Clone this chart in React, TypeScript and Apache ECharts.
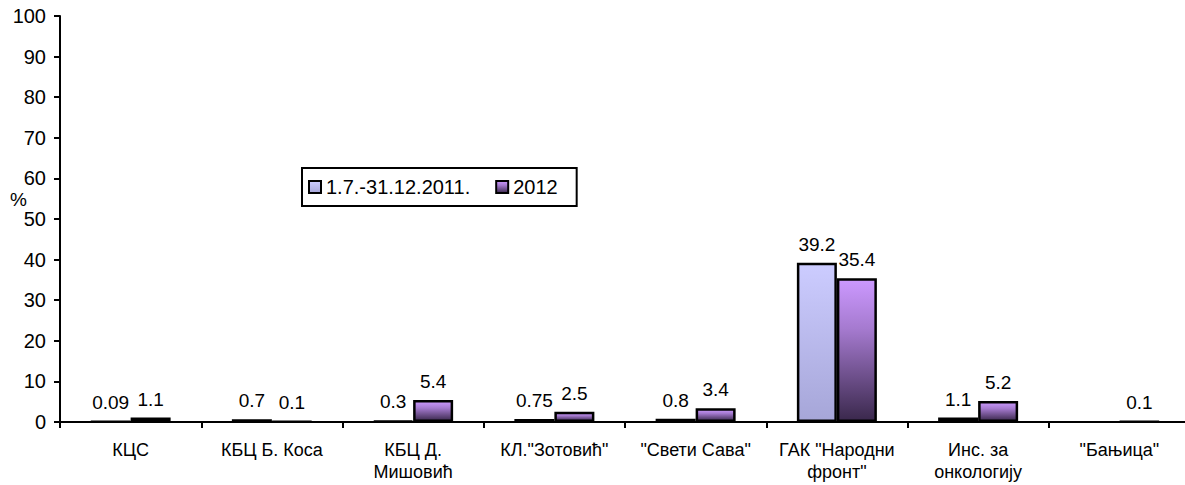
import React, { useEffect, useRef } from "react";
import * as echarts from "echarts";

const categories = [
  "КЦС",
  "КБЦ Б. Коса",
  "КБЦ Д.\nМишовић",
  'КЛ."Зотовић"',
  '"Свети Сава"',
  'ГАК "Народни\nфронт"',
  "Инс. за\nонкологију",
  '"Бањица"',
];
const seriesNames = ["1.7.-31.12.2011.", "2012"];
const values2011: (number | null)[] = [0.09, 0.7, 0.3, 0.75, 0.8, 39.2, 1.1, null];
const values2012: (number | null)[] = [1.1, 0.1, 5.4, 2.5, 3.4, 35.4, 5.2, 0.1];
const yTicks = { min: 0, max: 100, interval: 10 };

const FONT = "'Liberation Sans', Arial, sans-serif";

export default function App() {
  const ref = useRef<HTMLDivElement>(null);
  useEffect(() => {
    if (!ref.current) return;
    const chart = echarts.init(ref.current, null, { renderer: "svg" });
    const grad1 = new echarts.graphic.LinearGradient(0, 0, 0, 1, [
      { offset: 0, color: "#CCCCFF" },
      { offset: 1, color: "#A6A6D8" },
    ]);
    const grad2 = new echarts.graphic.LinearGradient(0, 0, 0, 1, [
      { offset: 0, color: "#CC99FF" },
      { offset: 0.35, color: "#A57ACF" },
      { offset: 1, color: "#3A284C" },
    ]);
    const label = {
      show: true,
      position: "top" as const,
      distance: 9,
      color: "#000",
      fontSize: 19,
      fontFamily: FONT,
    };
    chart.setOption({
      animation: false,
      backgroundColor: "#fff",
      textStyle: { fontFamily: FONT, color: "#000" },
      grid: {
        left: 60,
        top: 16,
        bottom: 63,
        width: 1130,
        containLabel: false,
        outerBoundsMode: "none",
      },
      legend: {
        left: 302,
        top: 168,
        orient: "horizontal",
        backgroundColor: "#fff",
        borderColor: "#000",
        borderWidth: 2,
        borderRadius: 0,
        padding: [9, 19, 9, 6],
        itemGap: 25,
        itemWidth: 12,
        itemHeight: 12,
        icon: "rect",
        itemStyle: { borderColor: "#000", borderWidth: 2 },
        textStyle: { fontSize: 20, color: "#000", fontFamily: FONT },
        data: seriesNames,
      },
      graphic: [
        {
          type: "text",
          left: 10,
          top: 190,
          style: { text: "%", fontSize: 19, fill: "#000", fontFamily: FONT },
        },
      ],
      xAxis: {
        type: "category",
        data: categories,
        axisLine: { lineStyle: { color: "#000", width: 2 } },
        axisTick: { show: true, length: 6, lineStyle: { color: "#000", width: 2 } },
        axisLabel: {
          interval: 0,
          color: "#000",
          fontSize: 18,
          lineHeight: 22,
          margin: 17,
          fontFamily: FONT,
        },
        splitLine: { show: false },
      },
      yAxis: {
        type: "value",
        min: yTicks.min,
        max: yTicks.max,
        interval: yTicks.interval,
        axisLine: { show: true, lineStyle: { color: "#000", width: 2 } },
        axisTick: { show: true, length: 6, lineStyle: { color: "#000", width: 2 } },
        axisLabel: { color: "#000", fontSize: 20, margin: 14, fontFamily: FONT },
        splitLine: { show: false },
      },
      series: [
        {
          name: seriesNames[0],
          type: "bar",
          data: values2011,
          barWidth: 40,
          barGap: "0%",
          itemStyle: { color: grad1, borderColor: "#000", borderWidth: 2.5 },
          label,
        },
        {
          name: seriesNames[1],
          type: "bar",
          data: values2012,
          barWidth: 40,
          barGap: "0%",
          itemStyle: { color: grad2, borderColor: "#000", borderWidth: 2.5 },
          label,
        },
      ],
    });
    return () => chart.dispose();
  }, []);
  return (
    <div
      ref={ref}
      style={{ position: "fixed", left: 0, top: 0, width: 1185, height: 485 }}
    />
  );
}
